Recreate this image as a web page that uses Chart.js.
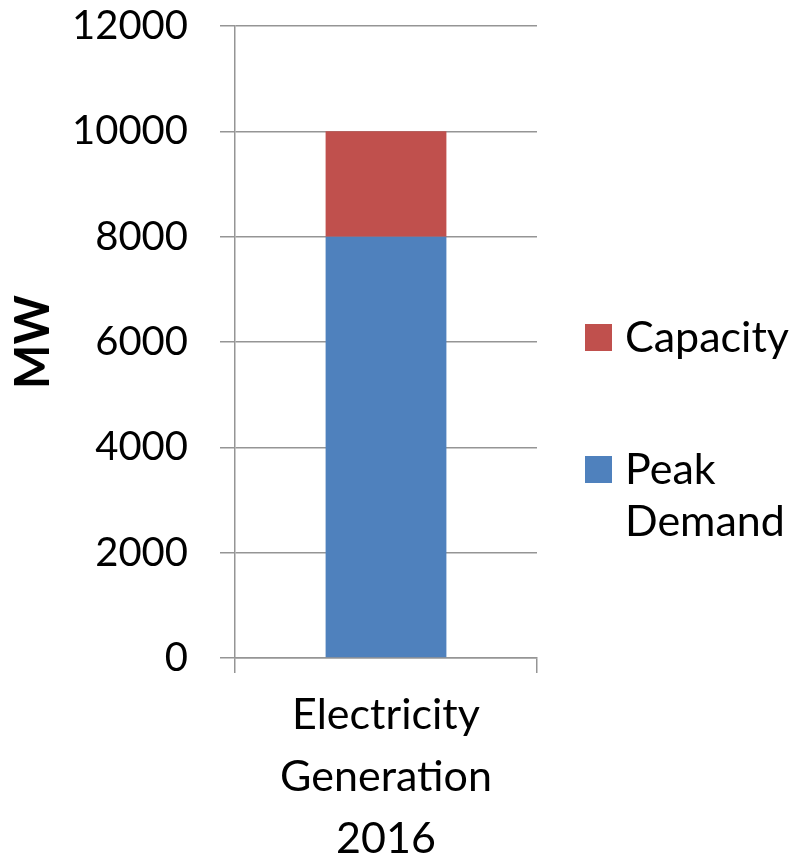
<!DOCTYPE html>
<html>
<head>
<meta charset="utf-8">
<script src="https://cdn.jsdelivr.net/npm/chart.js@4"></script>
<style>
  html, body { margin: 0; padding: 0; background: #fff; }
  #wrap { width: 794px; height: 857px; }
</style>
</head>
<body>
<div id="wrap"><canvas id="chart" width="794" height="857"></canvas></div>
<script>
const categories = [["Electricity", "Generation", "2016"]];
const peakDemand = [8000];
const capacity = [2000];
const yTicks = [0, 2000, 4000, 6000, 8000, 10000, 12000];

const FONT = "Lato, 'Liberation Sans', sans-serif";
const GRID = "#959595";

window.addEventListener("load", onLoad);

function onLoad() {
  createChart();
}

// legend drawn by hand so that "Peak Demand" can wrap like the original
const sideLegend = {
  id: "sideLegend",
  afterDraw(chart) {
    const ctx = chart.ctx;
    const sets = chart.data.datasets.slice().reverse();
    const tops = [324, 456];
    ctx.save();
    ctx.font = "43px " + FONT;
    ctx.textBaseline = "alphabetic";
    sets.forEach((ds, i) => {
      const y = tops[i];
      ctx.fillStyle = ds.backgroundColor;
      ctx.fillRect(585, y, 27, 27);
      ctx.fillStyle = "#000";
      wrap(ctx, ds.label, 794 - 625).forEach((line, j) => {
        ctx.fillText(line, 625, y + 28 + j * 52);
      });
    });
    ctx.restore();
  },
};

function wrap(ctx, text, maxWidth) {
  const words = text.split(" ");
  const lines = [];
  let cur = "";
  words.forEach((w) => {
    const test = cur ? cur + " " + w : w;
    if (cur && ctx.measureText(test).width > maxWidth) {
      lines.push(cur);
      cur = w;
    } else {
      cur = test;
    }
  });
  if (cur) lines.push(cur);
  return lines;
}

function createChart() {
  return new Chart(document.getElementById("chart").getContext("2d"), {
    type: "bar",
    data: {
      labels: categories,
      datasets: [
        {
          label: "Peak Demand",
          data: peakDemand,
          backgroundColor: "#4F81BD",
          barPercentage: 0.4,
          categoryPercentage: 1,
        },
        {
          label: "Capacity",
          data: capacity,
          backgroundColor: "#C0504D",
          barPercentage: 0.4,
          categoryPercentage: 1,
        },
      ],
    },
    plugins: [sideLegend],
    options: {
      responsive: false,
      animation: false,
      layout: {
        padding: { top: 0, right: 257, left: 0, bottom: 0 },
      },
      plugins: {
        legend: { display: false },
        tooltip: { enabled: false },
      },
      scales: {
        x: {
          stacked: true,
          grid: {
            offset: true,
            drawOnChartArea: false,
            color: GRID,
            lineWidth: 1.5,
            tickLength: 15,
          },
          border: { color: GRID, width: 1.5 },
          ticks: {
            color: "#000",
            padding: 11,
            maxRotation: 0,
            font: { family: FONT, size: 43, lineHeight: 1.44 },
          },
          afterFit(scale) {
            scale.height = 199;
          },
        },
        y: {
          stacked: true,
          min: 0,
          max: 12000,
          afterBuildTicks(scale) {
            scale.ticks = yTicks.map((v) => ({ value: v }));
          },
          grid: {
            color: GRID,
            lineWidth: 1.5,
            tickLength: 15,
          },
          border: { color: GRID, width: 1.5 },
          ticks: {
            color: "#000",
            padding: 32,
            font: { family: FONT, size: 40 },
            callback: (v) => String(v),
          },
          title: {
            display: true,
            text: "MW",
            color: "#000",
            padding: { top: 6, bottom: 0 },
            font: { family: FONT, size: 47, weight: "bold" },
          },
          afterFit(scale) {
            scale.width = 235;
            scale.paddingTop = 26;
            scale.paddingBottom = 0;
          },
        },
      },
    },
  });
}
</script>
</body>
</html>
